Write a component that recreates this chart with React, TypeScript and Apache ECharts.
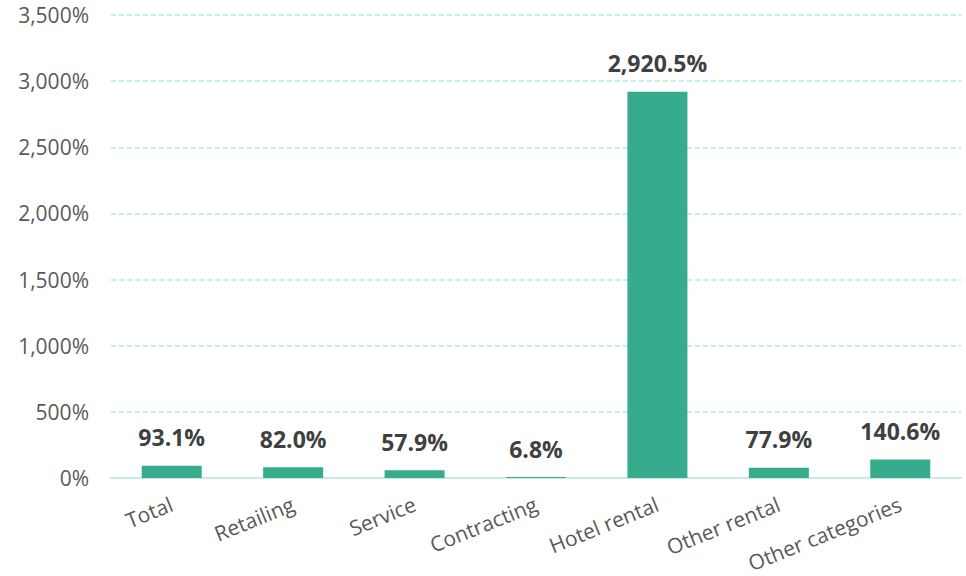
import React, { useEffect, useRef } from "react";
import * as echarts from "echarts";

const categories = ["Total", "Retailing", "Service", "Contracting", "Hotel rental", "Other rental", "Other categories"];
const values = [93.1, 82.0, 57.9, 6.8, 2920.5, 77.9, 140.6];
const yTicks = { min: 0, max: 3500, interval: 500 };

const fmt = (v: number, d: number) =>
  v.toLocaleString("en-US", { minimumFractionDigits: d, maximumFractionDigits: d }) + "%";

export default function App() {
  const ref = useRef<HTMLDivElement>(null);
  useEffect(() => {
    const chart = echarts.init(ref.current!, null, { renderer: "svg" });
    chart.setOption({
      animation: false,
      textStyle: { fontFamily: "Open Sans" },
      grid: { left: 111, right: 5, top: 15, bottom: 98, containLabel: false },
      xAxis: {
        type: "category",
        data: categories,
        axisLine: { show: true, lineStyle: { color: "#C5EDE2", width: 2 } },
        axisTick: { show: false },
        axisLabel: { rotate: 22, fontSize: 21, color: "#595959", margin: 25, interval: 0, fontFamily: "Open Sans" },
      },
      yAxis: {
        type: "value",
        min: yTicks.min,
        max: yTicks.max,
        interval: yTicks.interval,
        axisLine: { show: false },
        axisTick: { show: false },
        axisLabel: { fontSize: 21, color: "#595959", margin: 22, formatter: (v: number) => fmt(v, 0), fontFamily: "Open Sans" },
        splitLine: { show: true, lineStyle: { color: "#B5EADB", type: [5, 3], width: 1.5 } },
      },
      series: [
        {
          type: "bar",
          data: values,
          barWidth: 60,
          itemStyle: { color: "#36AC8C" },
          label: {
            show: true,
            position: "top",
            distance: 17,
            fontSize: 23,
            fontWeight: "bold",
            color: "#404040",
            fontFamily: "Open Sans",
            formatter: (p: any) => fmt(p.value, 1),
          },
        },
      ],
    });
    return () => chart.dispose();
  }, []);
  return (
    <div
      ref={ref}
      style={{ position: "absolute", left: 0, top: 0, width: 966, height: 576 }}
    />
  );
}
